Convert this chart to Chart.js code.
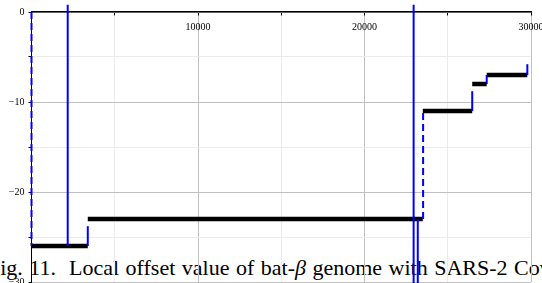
<!DOCTYPE html>
<html>
<head>
<meta charset="utf-8">
<script src="https://cdn.jsdelivr.net/npm/chart.js@4.4.1/dist/chart.umd.min.js"></script>
<style>
  html, body { margin: 0; padding: 0; background: #fff; overflow: hidden; }
  #wrap { position: relative; width: 542px; height: 283px; overflow: hidden; }
  #caption {
    position: absolute; left: -12px; top: 257px;
    font-family: "Liberation Serif", serif;
    font-size: 22px; line-height: 22px; white-space: pre; word-spacing: 1px; color: #000;
  }
  canvas { position: absolute; left: 0; top: 0; }
</style>
</head>
<body>
<div id="wrap">
  <div id="caption">Fig. 11.  Local offset value of bat-<i>β</i> genome with SARS-2 Cov</div>
  <canvas id="offsetChart" width="542" height="283"></canvas>
</div>
<script>
/* ================= DATA ================= */

// black step levels (local offset over genome position)
const stepStart = [0, 3380, 23500, 26470, 27340];
const stepEnd   = [3380, 23500, 26470, 27340, 29780];
const stepLevel = [-26, -23, -11, -8, -7];

// blue vertical jumps
const jumpX      = [0, 2175, 3380, 22950, 23200, 23520, 26470, 27340, 29780];
const jumpFrom   = [0, 0.8, -26, 0.8, -23, -23, -11, -8, -7];
const jumpTo     = [-26, -26, -23.8, -30.3, -30.3, -11, -8.8, -7, -5.8];
const jumpDashed = [true, false, false, false, false, true, false, false, false];

// labelled ticks
const xTicks = [10000, 20000, 30000];
const yTicks = [0, -10, -20, -30];

/* ================= CHART ================= */

const stepPoints = [];
stepLevel.forEach((lv, i) => {
    stepPoints.push({ x: stepStart[i], y: lv }, { x: stepEnd[i], y: lv }, { x: stepEnd[i], y: null });
});

const datasets = [{
    data: stepPoints,
    borderColor: "#000",
    borderWidth: 4.5,
    borderCapStyle: "butt",
    showLine: true,
    spanGaps: false,
    pointRadius: 0,
    order: 1
}];

jumpX.forEach((x, i) => {
    datasets.push({
        data: [{ x: x, y: jumpFrom[i] }, { x: x, y: jumpTo[i] }],
        borderColor: "#0000ff",
        borderWidth: 2,
        borderDash: jumpDashed[i] ? [7, 4] : [],
        showLine: true,
        pointRadius: 0,
        clip: false,
        order: 0
    });
});

const tickFont = { family: "Liberation Serif", size: 10 };

const ctx = document.getElementById("offsetChart").getContext("2d");

new Chart(ctx, {
    type: "scatter",
    data: { datasets: datasets },
    options: {
        responsive: false,
        animation: false,
        devicePixelRatio: 1,
        layout: { autoPadding: false, padding: { left: 0, top: 12, right: 11, bottom: 1 } },
        plugins: { legend: { display: false }, tooltip: { enabled: false } },
        scales: {
            x: {
                type: "linear",
                min: 0,
                max: 30000,
                position: { y: 0 },
                ticks: {
                    stepSize: 5000,
                    autoSkip: false,
                    maxRotation: 0,
                    padding: 6,
                    color: "#000",
                    font: tickFont,
                    callback: v => xTicks.includes(v) ? String(v) : ""
                },
                grid: {
                    color: c => (c.tick && c.tick.value % 10000 === 0) ? "#c0c0c0" : "#ebebeb",
                    tickColor: "#000",
                    tickLength: 3
                },
                border: { color: "#000", width: 1.5 },
                afterFit: s => { s.height = 0; s.paddingLeft = 0; s.paddingRight = 0; }
            },
            y: {
                type: "linear",
                min: -30,
                max: 0,
                position: "left",
                ticks: {
                    stepSize: 5,
                    padding: 4,
                    color: "#000",
                    font: tickFont,
                    callback: v => yTicks.includes(v) ? (v < 0 ? "\u2212" + (-v) : String(v)) : ""
                },
                grid: {
                    color: c => (c.tick && c.tick.value % 10 === 0) ? "#c0c0c0" : "#ebebeb",
                    tickColor: "#000",
                    tickLength: 3
                },
                border: { color: "#000", width: 1 },
                afterFit: s => { s.width = 31.5; s.paddingTop = 0; s.paddingBottom = 0; }
            }
        }
    }
});
</script>
</body>
</html>
